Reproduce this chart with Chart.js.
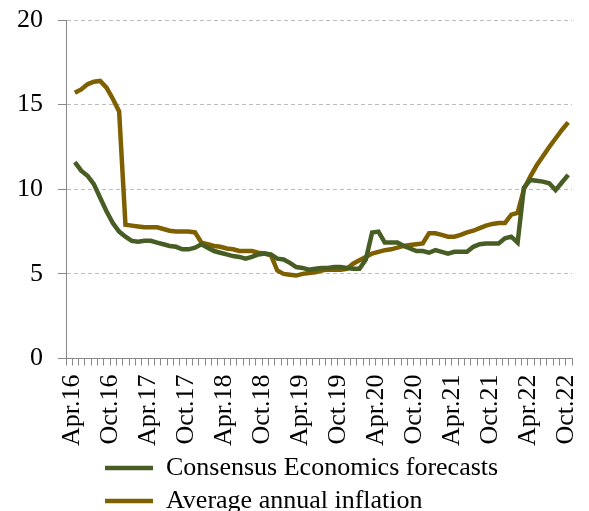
<!DOCTYPE html>
<html>
<head>
<meta charset="utf-8">
<script src="https://cdn.jsdelivr.net/npm/chart.js@4.4.1/dist/chart.umd.min.js"></script>
<style>
html,body{margin:0;padding:0;background:#fff;}
#wrap{width:589px;height:511px;}
</style>
</head>
<body>
<div id="wrap"><canvas id="c" width="589" height="511"></canvas></div>
<script>
// Tick labels shown on the x axis (every 6 months, Apr.16 .. Oct.22)
const tickLabels = ['Apr.16','Oct.16','Apr.17','Oct.17','Apr.18','Oct.18','Apr.19','Oct.19','Apr.20','Oct.20','Apr.21','Oct.21','Apr.22','Oct.22'];
const seriesNames = ['Consensus Economics forecasts', 'Average annual inflation'];
// Monthly values Apr.16 .. Oct.22 (79 months)
const consensus = [
  11.6,11.1,10.8,10.3,9.5,8.7,8.0,7.5,7.2,6.95,
  6.9,6.95,6.95,6.85,6.75,6.65,6.6,6.45,6.45,6.55,
  6.75,6.55,6.35,6.25,6.15,6.05,6.0,5.9,6.0,6.15,
  6.2,6.15,5.9,5.85,5.65,5.4,5.35,5.25,5.3,5.35,
  5.35,5.4,5.4,5.35,5.3,5.3,5.85,7.45,7.5,6.85,
  6.85,6.85,6.65,6.5,6.35,6.35,6.25,6.4,6.3,6.2,
  6.3,6.3,6.3,6.6,6.75,6.8,6.8,6.8,7.1,7.2,
  6.85,10.1,10.55,10.5,10.45,10.35,9.95,10.4,10.85
];
const inflation = [
  15.7,15.9,16.2,16.35,16.4,16.0,15.35,14.6,7.9,7.85,
  7.8,7.75,7.75,7.75,7.65,7.55,7.5,7.5,7.5,7.45,
  6.85,6.75,6.65,6.6,6.5,6.45,6.35,6.35,6.35,6.25,
  6.2,6.1,5.2,5.0,4.95,4.9,5.0,5.05,5.1,5.2,
  5.25,5.25,5.25,5.3,5.6,5.8,6.0,6.2,6.3,6.4,
  6.45,6.55,6.65,6.7,6.75,6.8,7.4,7.4,7.3,7.2,
  7.2,7.3,7.45,7.55,7.7,7.85,7.95,8.0,8.0,8.5,
  8.6,10.0,10.75,11.4,11.95,12.5,13.0,13.5,13.95
];
const colors = ['#475d24', '#7F6000'];

const toPoints = arr => arr.map((v, i) => ({x: i, y: v}));
const FONT = {family: "'Liberation Serif', 'Times New Roman', serif", size: 26};

const legendShift = {
  id: 'legendShift',
  afterLayout(chart) {
    if (chart.legend) { chart.legend.left = 98; chart.legend.top -= 7; }
  }
};

new Chart(document.getElementById('c'), {
  type: 'line',
  data: {
    datasets: [
      {label: seriesNames[0], data: toPoints(consensus), borderColor: colors[0], backgroundColor: colors[0], borderWidth: 4.5, pointRadius: 0, tension: 0, fill: false},
      {label: seriesNames[1], data: toPoints(inflation), borderColor: colors[1], backgroundColor: colors[1], borderWidth: 4.5, pointRadius: 0, tension: 0, fill: false}
    ]
  },
  plugins: [legendShift],
  options: {
    responsive: false,
    devicePixelRatio: 1,
    animation: false,
    layout: {padding: {left: 2, right: 17, top: 20, bottom: -20}},
    plugins: {
      tooltip: {enabled: false},
      legend: {
        position: 'bottom',
        align: 'start',
        labels: {
          font: FONT, color: '#000',
          usePointStyle: true, pointStyle: 'line', pointStyleWidth: 48,
          boxHeight: 4, padding: 7
        }
      }
    },
    scales: {
      x: {
        type: 'linear',
        min: -1.4, max: 78.6,
        border: {display: true, color: '#888', width: 1},
        grid: {display: true, drawOnChartArea: false, drawTicks: true, tickLength: 7, tickColor: '#888', color: '#888'},
        afterFit: (s) => { s.paddingLeft = 0; s.paddingRight = 0; },
        ticks: {
          stepSize: 1, autoSkip: false, includeBounds: false,
          minRotation: 90, maxRotation: 90, padding: 9,
          font: FONT, color: '#000',
          callback: (v) => { const i = Math.round(v); return (i >= 0 && i % 6 === 0) ? tickLabels[i / 6] : ''; }
        }
      },
      y: {
        min: 0, max: 20,
        border: {display: true, color: '#888', width: 1, dash: [4, 3]},
        grid: {color: '#bdbdbd', tickColor: '#888', tickLength: 8, tickBorderDash: []},
        afterFit: (s) => { s.paddingTop = 0; s.paddingBottom = 0; },
        ticks: {stepSize: 5, padding: 15, font: FONT, color: '#000'}
      }
    }
  }
});
</script>
</body>
</html>
